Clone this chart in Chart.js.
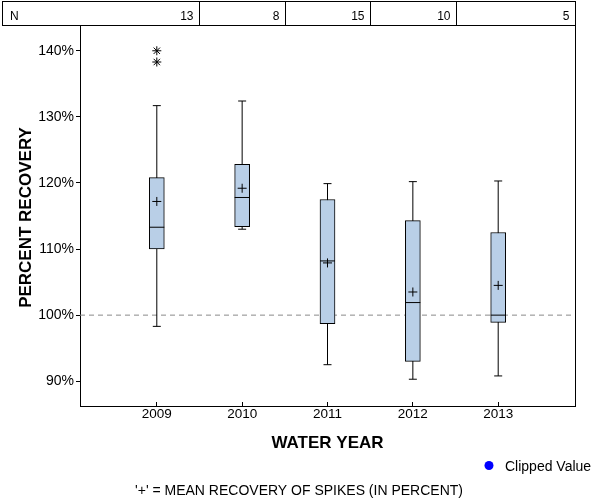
<!DOCTYPE html>
<html>
<head>
<meta charset="utf-8">
<script src="https://cdn.jsdelivr.net/npm/chart.js@4/dist/chart.umd.min.js"></script>
<style>
  html, body { margin: 0; padding: 0; background: #fff; }
  #wrap { width: 600px; height: 500px; position: relative; }
</style>
</head>
<body>
<div id="wrap"><canvas id="c" width="600" height="500"></canvas></div>
<script>
// ---- data ----
const years = [2009, 2010, 2011, 2012, 2013];
const counts = [13, 8, 15, 10, 5];
const whiskerLow = [98.3, 113.0, 92.5, 90.3, 90.8];
const q1 = [110.0, 113.4, 98.7, 93.0, 98.9];
const median = [113.3, 117.8, 108.2, 101.9, 100.0];
const q3 = [120.8, 122.8, 117.5, 114.3, 112.5];
const whiskerHigh = [131.7, 132.4, 119.9, 120.2, 120.3];
const mean = [117.2, 119.2, 107.9, 103.5, 104.5];
const outlierYears = [2009, 2009];
const outlierValues = [140.0, 138.3];
const yTicks = [90, 100, 110, 120, 130, 140];
const xRange = [2008.1, 2013.9];
const yRange = [86.25, 143.9];
const referenceValue = 100;

const FONT = '"Liberation Sans", Arial, sans-serif';

// whisker segments (null separates each box's segment)
const whiskerData = [];
years.forEach((yr, i) => {
  whiskerData.push({x: yr, y: whiskerLow[i]});
  whiskerData.push({x: yr, y: whiskerHigh[i]});
  whiskerData.push({x: yr, y: null});
});
const capData = [];
years.forEach((yr, i) => {
  capData.push({x: yr, y: whiskerLow[i]});
  capData.push({x: yr, y: whiskerHigh[i]});
});

const decor = {
  id: 'decor',
  afterDraw(chart) {
    const ctx = chart.ctx;
    const a = chart.chartArea;
    const xs = chart.scales.x;
    ctx.save();
    // plot frame (right side)
    ctx.strokeStyle = '#000';
    ctx.lineWidth = 1;
    ctx.beginPath();
    ctx.moveTo(Math.round(a.right) + 0.5, a.top);
    ctx.lineTo(Math.round(a.right) + 0.5, a.bottom + 0.5);
    ctx.stroke();

    // N table
    const tTop = 1.5, tBot = 25.5, tLeft = 2.5, tRight = Math.round(a.right) + 0.5;
    ctx.strokeRect(tLeft, tTop, tRight - tLeft, tBot - tTop);
    const bounds = [tLeft];
    for (let i = 0; i < years.length - 1; i++) {
      const bx = Math.round(xs.getPixelForValue((years[i] + years[i + 1]) / 2)) + 0.5;
      bounds.push(bx);
      ctx.beginPath();
      ctx.moveTo(bx, tTop);
      ctx.lineTo(bx, tBot);
      ctx.stroke();
    }
    bounds.push(tRight);
    ctx.fillStyle = '#000';
    ctx.font = '12px ' + FONT;
    ctx.textBaseline = 'alphabetic';
    ctx.textAlign = 'left';
    ctx.fillText('N', 10, 19.5);
    ctx.textAlign = 'right';
    counts.forEach((n, i) => {
      ctx.fillText(String(n), bounds[i + 1] - 6, 19.5);
    });

    // axis titles
    ctx.font = 'bold 17px ' + FONT;
    ctx.textAlign = 'center';
    ctx.textBaseline = 'middle';
    ctx.fillText('WATER YEAR', (a.left + a.right) / 2, 443);
    ctx.save();
    ctx.translate(26, (a.top + a.bottom) / 2 + 2);
    ctx.rotate(-Math.PI / 2);
    ctx.fillText('PERCENT RECOVERY', 0, 0);
    ctx.restore();

    // legend
    ctx.fillStyle = '#0000ff';
    ctx.beginPath();
    ctx.arc(489, 465.5, 4.5, 0, Math.PI * 2);
    ctx.fill();
    ctx.fillStyle = '#000';
    ctx.font = '14px ' + FONT;
    ctx.textAlign = 'left';
    ctx.fillText('Clipped Value', 505, 467);

    // footnote
    ctx.textAlign = 'center';
    ctx.fillText("'+' = MEAN RECOVERY OF SPIKES (IN PERCENT)", 299, 491);
    ctx.restore();
  }
};

new Chart(document.getElementById('c'), {
  type: 'bar',
  data: {
    datasets: [
      {
        type: 'line',
        label: 'Reference',
        data: [{x: xRange[0], y: referenceValue}, {x: xRange[1], y: referenceValue}],
        borderColor: '#8a8a8a',
        borderWidth: 1,
        borderDash: [5, 4],
        pointRadius: 0,
        order: 5
      },
      {
        type: 'line',
        label: 'Whiskers',
        data: whiskerData,
        borderColor: '#000',
        borderWidth: 1,
        pointRadius: 0,
        spanGaps: false,
        order: 4
      },
      {
        type: 'bar',
        label: 'IQR',
        data: years.map((yr, i) => ({x: yr, y: [q1[i], q3[i]]})),
        backgroundColor: '#b9cfe7',
        borderColor: '#000',
        borderWidth: 1,
        borderSkipped: false,
        barThickness: 15,
        order: 3
      },
      {
        type: 'scatter',
        label: 'Caps',
        data: capData,
        pointStyle: 'line',
        radius: 4,
        borderColor: '#000',
        borderWidth: 1,
        order: 2
      },
      {
        type: 'scatter',
        label: 'Median',
        data: years.map((yr, i) => ({x: yr, y: median[i]})),
        pointStyle: 'line',
        radius: 7.5,
        borderColor: '#000',
        borderWidth: 1,
        order: 1
      },
      {
        type: 'scatter',
        label: 'Mean',
        data: years.map((yr, i) => ({x: yr, y: mean[i]})),
        pointStyle: 'cross',
        radius: 4.5,
        borderColor: '#000',
        borderWidth: 1,
        order: 0
      },
      {
        type: 'scatter',
        label: 'Outliers',
        data: outlierYears.map((yr, i) => ({x: yr, y: outlierValues[i]})),
        pointStyle: 'star',
        radius: 4.5,
        borderColor: '#000',
        borderWidth: 1,
        order: 0
      }
    ]
  },
  options: {
    responsive: false,
    animation: false,
    events: [],
    layout: { padding: { top: 25, right: 25, left: 0, bottom: 0 } },
    plugins: { legend: { display: false }, tooltip: { enabled: false } },
    scales: {
      x: {
        type: 'linear',
        min: xRange[0],
        max: xRange[1],
        offset: false,
        afterBuildTicks: s => { s.ticks = years.map(v => ({value: v})); },
        afterFit: s => { s.height = 94; },
        ticks: {
          color: '#000',
          font: { family: FONT, size: 13.5 },
          padding: 4,
          maxRotation: 0,
          callback: v => String(v)
        },
        grid: { drawOnChartArea: false, offset: false, tickLength: -4, color: '#000' },
        border: { display: true, color: '#000', width: 1 }
      },
      y: {
        type: 'linear',
        min: yRange[0],
        max: yRange[1],
        afterBuildTicks: s => { s.ticks = yTicks.map(v => ({value: v})); },
        afterFit: s => { s.width = 80; },
        ticks: {
          color: '#000',
          font: { family: FONT, size: 14 },
          padding: 2,
          callback: v => v + '%'
        },
        grid: { drawOnChartArea: false, tickLength: 4, color: '#000' },
        border: { display: true, color: '#000', width: 1 }
      }
    }
  },
  plugins: [decor]
});
</script>
</body>
</html>
